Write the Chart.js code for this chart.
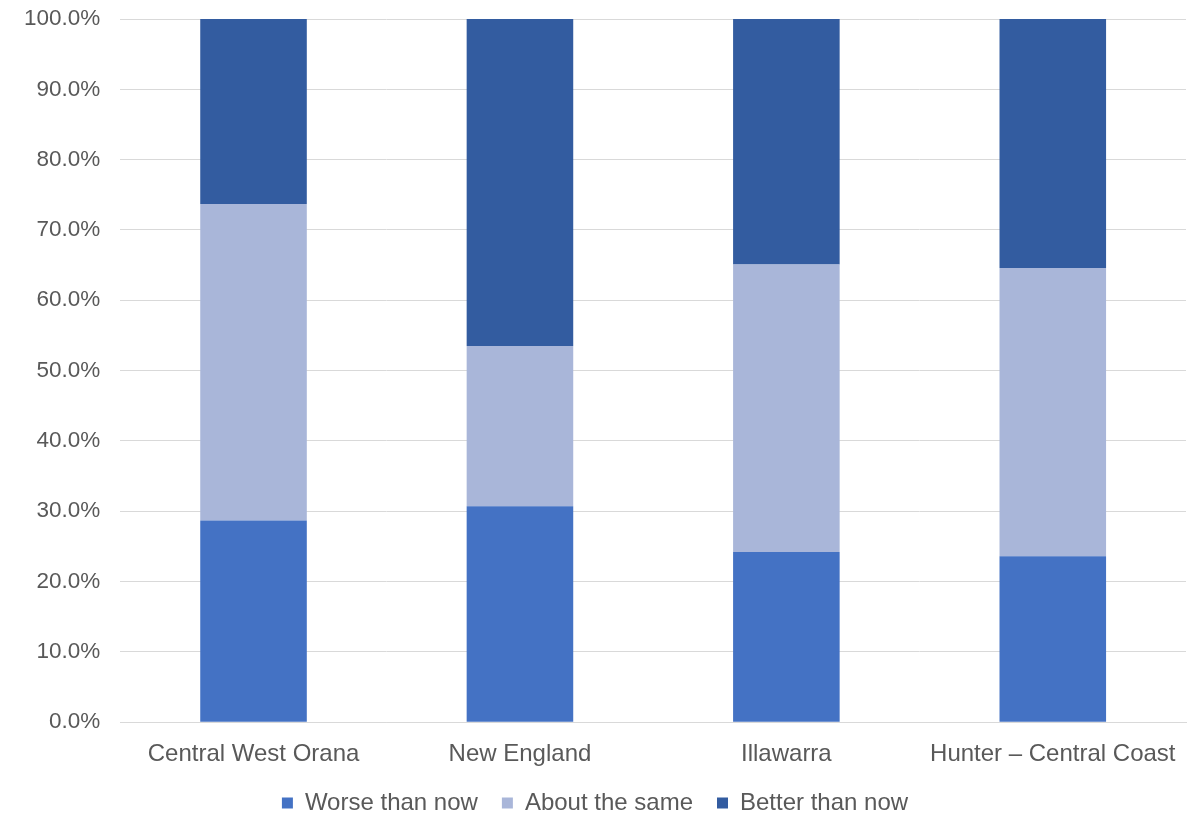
<!DOCTYPE html>
<html>
<head>
<meta charset="utf-8">
<script src="https://cdn.jsdelivr.net/npm/chart.js@4"></script>
<style>
  html, body { margin: 0; padding: 0; background: #fff; }
  #wrap { width: 1196px; height: 815px; }
</style>
</head>
<body>
<div id="wrap"><canvas id="chart" width="1196" height="815"></canvas></div>
<script>
// data
const regions = ["Central West Orana", "New England", "Illawarra", "Hunter \u2013 Central Coast"];
const worse = [28.7, 30.7, 24.2, 23.6];
const same = [45.0, 22.8, 40.9, 41.0];
const better = [26.3, 46.5, 34.9, 35.4];

const gridColor = "#d9d9d9";
const textColor = "#595959";
const family = "'Liberation Sans', Arial, sans-serif";

new Chart(document.getElementById("chart"), {
    type: "bar",
    data: {
        labels: regions,
        datasets: [
            { label: "Worse than now", data: worse, backgroundColor: "#4472c4" },
            { label: "About the same", data: same, backgroundColor: "#a9b6d9" },
            { label: "Better than now", data: better, backgroundColor: "#335ca0" }
        ]
    },
    options: {
        responsive: false,
        animation: false,
        datasets: { bar: { categoryPercentage: 1, barPercentage: 0.4 } },
        layout: { padding: { top: 19, right: 10, left: 4, bottom: -10 } },
        plugins: {
            legend: {
                position: "bottom",
                labels: {
                    color: textColor,
                    font: { family: family, size: 24, lineHeight: 1 },
                    boxWidth: 11,
                    boxHeight: 11,
                    padding: 24
                }
            },
            tooltip: { enabled: false }
        },
        scales: {
            x: {
                stacked: true,
                grid: { display: false },
                border: { color: gridColor },
                ticks: { color: textColor, font: { family: family, size: 24 }, maxRotation: 0, padding: 10 },
                // pull the legend closer to the category labels
                afterFit: axis => { axis.height -= 12; }
            },
            y: {
                stacked: true,
                min: 0,
                max: 100,
                grid: { color: gridColor, drawTicks: false },
                border: { display: false },
                ticks: {
                    stepSize: 10,
                    color: textColor,
                    font: { family: family, size: 22.5 },
                    padding: 20,
                    callback: v => v.toFixed(1) + "%"
                },
                afterFit: axis => { axis.paddingTop = 0; }
            }
        }
    }
});
</script>
</body>
</html>
